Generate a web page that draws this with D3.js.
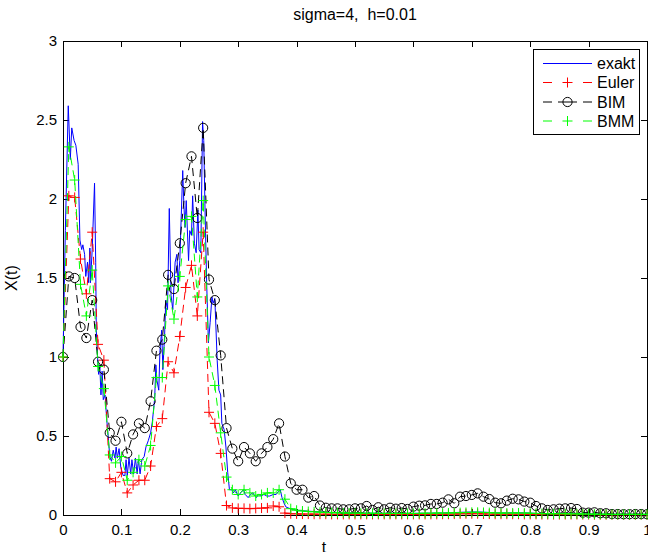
<!DOCTYPE html>
<html>
<head>
<meta charset="utf-8">
<script src="https://cdn.jsdelivr.net/npm/d3@7"></script>
<style>
  body { margin: 0; background: #fff; }
  svg { display: block; }
  text { font-family: "Liberation Sans", Arial, Helvetica, sans-serif; fill: #000; white-space: pre; }
</style>
</head>
<body>
<svg id="chart" width="648" height="552"></svg>
<script>
// ---- simulation grid (h = 0.01) ----
const h = 0.01;
const tGrid = d3.range(101).map(i => +(i * h).toFixed(2));

// ---- exact solution, sampled on a finer irregular grid ----
const exaktT = [
  0, 0.004, 0.009, 0.0125, 0.015, 0.019, 0.022, 0.026, 0.029, 0.032,
  0.034, 0.037, 0.039, 0.042, 0.044, 0.046, 0.047, 0.050, 0.054, 0.056,
  0.057, 0.059, 0.061, 0.063, 0.065, 0.067, 0.069, 0.072, 0.075, 0.078,
  0.080, 0.083, 0.086, 0.089, 0.091, 0.093, 0.096, 0.099, 0.103, 0.106,
  0.108, 0.110, 0.113, 0.116, 0.118, 0.121, 0.124, 0.127, 0.129, 0.132,
  0.135, 0.139, 0.142, 0.146, 0.150, 0.153, 0.157, 0.159, 0.161, 0.164,
  0.166, 0.169, 0.171, 0.174, 0.176, 0.179, 0.182, 0.185, 0.188, 0.192,
  0.195, 0.197, 0.200, 0.205, 0.207, 0.209, 0.211, 0.215, 0.217, 0.220,
  0.222, 0.225, 0.228, 0.231, 0.233, 0.236, 0.239, 0.241, 0.243, 0.246,
  0.249, 0.252, 0.255, 0.257, 0.260, 0.264, 0.267, 0.270, 0.272, 0.276,
  0.279, 0.282, 0.285, 0.289, 0.292, 0.295, 0.300, 0.304, 0.309, 0.312,
  0.317, 0.321, 0.325, 0.331, 0.335, 0.339, 0.344, 0.349, 0.354, 0.360,
  0.365, 0.369, 0.372, 0.375, 0.379, 0.382, 0.389,
  0.40, 0.41, 0.42, 0.43, 0.44, 0.45, 0.46, 0.47, 0.48, 0.49,
  0.50, 0.51, 0.52, 0.53, 0.54, 0.55, 0.56, 0.57, 0.58, 0.59,
  0.60, 0.61, 0.62, 0.63, 0.64, 0.65, 0.66, 0.67, 0.68, 0.69,
  0.70, 0.71, 0.72, 0.73, 0.74, 0.75, 0.76, 0.77, 0.78, 0.79,
  0.80, 0.81, 0.82, 0.83, 0.84, 0.85, 0.86, 0.87, 0.88, 0.89,
  0.90, 0.91, 0.92, 0.93, 0.94, 0.95, 0.96, 0.97, 0.98, 0.99, 1.00
];
const exaktX = [
  1.00, 1.80, 2.59, 2.25, 2.45, 2.37, 2.34, 2.22, 1.74, 1.68,
  1.71, 1.65, 1.51, 1.60, 1.47, 1.69, 1.47, 1.68, 2.10, 1.60,
  1.17, 1.01, 0.89, 0.95, 0.76, 0.91, 0.73, 0.76, 0.60, 0.47,
  0.37, 0.34, 0.41, 0.36, 0.43, 0.36, 0.42, 0.30, 0.25, 0.25,
  0.35, 0.25, 0.36, 0.26, 0.35, 0.26, 0.36, 0.26, 0.35, 0.26,
  0.35, 0.37, 0.43, 0.47, 0.52, 0.59, 0.74, 0.95, 0.85, 0.79,
  1.04, 1.17, 0.92, 1.14, 1.36, 1.30, 1.94, 1.39, 1.30, 1.60,
  1.65, 1.47, 1.61, 2.18, 1.96, 1.82, 1.99, 1.61, 1.80, 1.77,
  2.02, 1.72, 1.66, 1.93, 1.68, 1.66, 2.49, 2.37, 1.97, 1.47,
  1.09, 1.22, 1.38, 1.34, 1.37, 0.98, 0.79, 0.76, 0.58, 0.54,
  0.43, 0.27, 0.16, 0.16, 0.14, 0.16, 0.12, 0.14, 0.16, 0.13,
  0.11, 0.13, 0.14, 0.11, 0.13, 0.12, 0.13, 0.12, 0.12, 0.13,
  0.13, 0.15, 0.16, 0.11, 0.07, 0.05, 0.04,
  0.030, 0.027, 0.024, 0.022, 0.020, 0.018, 0.016, 0.015, 0.014, 0.013,
  0.012, 0.012, 0.012, 0.011, 0.011, 0.011, 0.010, 0.010, 0.010, 0.010,
  0.010, 0.011, 0.011, 0.012, 0.012, 0.013, 0.014, 0.015, 0.017, 0.018,
  0.019, 0.019, 0.018, 0.016, 0.014, 0.013, 0.013, 0.014, 0.014, 0.013,
  0.012, 0.010, 0.009, 0.008, 0.008, 0.008, 0.008, 0.007, 0.007, 0.006,
  0.006, 0.005, 0.005, 0.005, 0.004, 0.004, 0.004, 0.004, 0.004, 0.004, 0.004
];

// ---- Euler scheme ----
const eulerX = [
  1.00, 2.02, 2.01, 1.62, 1.40, 1.79, 1.08, 0.98, 0.23, 0.21,
  0.27, 0.14, 0.19, 0.22, 0.22, 0.31, 0.56, 0.61, 0.97, 0.90,
  1.13, 1.44, 1.58, 1.26, 1.79, 0.65, 0.58, 0.39, 0.06, 0.045,
  0.042, 0.042, 0.040, 0.042, 0.044, 0.045, 0.057, 0.052, 0.012, 0.008,
  0.007, 0.006, 0.006, 0.005, 0.005, 0.005, 0.004, 0.004, 0.004, 0.004,
  0.004, 0.004, 0.004, 0.004, 0.004, 0.004, 0.004, 0.004, 0.004, 0.004,
  0.004, 0.004, 0.004, 0.004, 0.004, 0.005, 0.005, 0.006, 0.007, 0.008,
  0.008, 0.008, 0.007, 0.006, 0.005, 0.005, 0.005, 0.005, 0.005, 0.004,
  0.004, 0.004, 0.003, 0.003, 0.003, 0.003, 0.003, 0.003, 0.003, 0.003,
  0.003, 0.002, 0.002, 0.002, 0.002, 0.002, 0.002, 0.002, 0.002, 0.002, 0.002
];

// ---- BIM scheme ----
const bimX = [
  1.00, 1.51, 1.50, 1.19, 1.12, 1.36, 0.97, 0.92, 0.52, 0.47,
  0.59, 0.39, 0.51, 0.58, 0.55, 0.72, 1.04, 1.11, 1.52, 1.43,
  1.72, 2.10, 2.27, 1.88, 2.45, 1.49, 1.36, 1.01, 0.55, 0.42,
  0.34, 0.43, 0.39, 0.34, 0.39, 0.43, 0.48, 0.58, 0.37, 0.20,
  0.16, 0.16, 0.11, 0.12, 0.06, 0.046, 0.042, 0.042, 0.036, 0.036,
  0.042, 0.042, 0.057, 0.032, 0.049, 0.036, 0.046, 0.040, 0.044, 0.038,
  0.053, 0.059, 0.061, 0.070, 0.070, 0.078, 0.099, 0.074, 0.116, 0.120,
  0.127, 0.137, 0.116, 0.101, 0.078, 0.074, 0.091, 0.103, 0.099, 0.085,
  0.078, 0.057, 0.042, 0.032, 0.036, 0.040, 0.042, 0.044, 0.038, 0.015,
  0.015, 0.017, 0.011, 0.011, 0.006, 0.006, 0.005, 0.005, 0.006, 0.006, 0.005
];

// ---- BMM scheme ----
const bmmX = [
  1.00, 2.33, 2.12, 1.46, 1.26, 1.55, 0.94, 0.80, 0.38, 0.33,
  0.37, 0.22, 0.27, 0.35, 0.31, 0.44, 0.87, 0.87, 1.45, 1.24,
  1.51, 1.87, 1.89, 1.38, 1.99, 1.00, 0.82, 0.52, 0.24, 0.16,
  0.13, 0.16, 0.14, 0.12, 0.13, 0.14, 0.14, 0.16, 0.10, 0.04,
  0.030, 0.025, 0.022, 0.020, 0.018, 0.016, 0.015, 0.014, 0.013, 0.012,
  0.012, 0.011, 0.011, 0.011, 0.010, 0.010, 0.010, 0.010, 0.010, 0.010,
  0.010, 0.010, 0.011, 0.011, 0.012, 0.012, 0.013, 0.014, 0.015, 0.016,
  0.017, 0.017, 0.016, 0.015, 0.013, 0.012, 0.012, 0.013, 0.013, 0.012,
  0.011, 0.010, 0.009, 0.008, 0.008, 0.008, 0.008, 0.007, 0.007, 0.006,
  0.006, 0.005, 0.005, 0.005, 0.004, 0.004, 0.004, 0.004, 0.004, 0.004, 0.004
];

// ---- axis ticks and labels ----
const xTicks = [0, 0.1, 0.2, 0.3, 0.4, 0.5, 0.6, 0.7, 0.8, 0.9, 1];
const xTickLabels = ["0", "0.1", "0.2", "0.3", "0.4", "0.5", "0.6", "0.7", "0.8", "0.9", "1"];
const yTicks = [0, 0.5, 1, 1.5, 2, 2.5, 3];
const yTickLabels = ["0", "0.5", "1", "1.5", "2", "2.5", "3"];
const seriesNames = ["exakt", "Euler", "BIM", "BMM"];
const titleText = "sigma=4,  h=0.01";
const xLabelText = "t";
const yLabelText = "X(t)";

// ---- layout ----
const svg = d3.select("#chart");
const axLeft = 63, axRight = 647, axTop = 41, axBottom = 515;
const x = d3.scaleLinear().domain([0, 1]).range([axLeft, axRight]);
const y = d3.scaleLinear().domain([0, 3]).range([axBottom, axTop]);
const tickFont = 15;

// axes with inward ticks on all four sides
const gx = svg.append("g").attr("transform", `translate(0,${axBottom})`)
  .call(d3.axisBottom(x).tickValues(xTicks).tickFormat((d, i) => xTickLabels[i])
    .tickSizeInner(-6).tickSizeOuter(0).tickPadding(9.5));
const gxt = svg.append("g").attr("transform", `translate(0,${axTop})`)
  .call(d3.axisTop(x).tickValues(xTicks).tickFormat("").tickSizeInner(-6).tickSizeOuter(0));
const gy = svg.append("g").attr("transform", `translate(${axLeft},0)`)
  .call(d3.axisLeft(y).tickValues(yTicks).tickFormat((d, i) => yTickLabels[i])
    .tickSizeInner(-6).tickSizeOuter(0).tickPadding(6));
const gyr = svg.append("g").attr("transform", `translate(${axRight},0)`)
  .call(d3.axisRight(y).tickValues(yTicks).tickFormat("").tickSizeInner(-6).tickSizeOuter(0));

[gx, gxt, gy, gyr].forEach(g => {
  g.select(".domain").remove();
  g.selectAll(".tick line").attr("stroke", "#000").attr("shape-rendering", "crispEdges");
  g.selectAll("text").attr("font-size", tickFont).attr("font-family", null).attr("fill", "#000");
});

// axes box
svg.append("rect")
  .attr("x", axLeft + 0.5).attr("y", axTop + 0.5)
  .attr("width", axRight - axLeft).attr("height", axBottom - axTop)
  .attr("fill", "none").attr("stroke", "#000").attr("stroke-width", 1);

// ---- series ----
const plot = svg.append("g");
const dash = "8,5";
const line = d3.line().x(d => x(d[0])).y(d => y(d[1]));

function plusPath(cx, cy, r) {
  return `M${cx - r},${cy}H${cx + r}M${cx},${cy - r}V${cy + r}`;
}

// exakt
plot.append("path")
  .attr("d", line(exaktT.map((t, i) => [t, exaktX[i]])))
  .attr("fill", "none").attr("stroke", "#0000ff").attr("stroke-width", 1);

function scheme(values, color, marker) {
  const pts = tGrid.map((t, i) => [t, values[i]]);
  const g = plot.append("g");
  g.append("path").attr("d", line(pts))
    .attr("fill", "none").attr("stroke", color).attr("stroke-width", 1)
    .attr("stroke-dasharray", dash);
  if (marker === "+") {
    g.selectAll("path.m").data(pts).enter().append("path").attr("class", "m")
      .attr("d", d => plusPath(x(d[0]), y(d[1]), 5))
      .attr("stroke", color).attr("stroke-width", 1).attr("fill", "none");
  } else {
    g.selectAll("circle").data(pts).enter().append("circle")
      .attr("cx", d => x(d[0])).attr("cy", d => y(d[1])).attr("r", 4.6)
      .attr("stroke", color).attr("stroke-width", 1).attr("fill", "none");
  }
}
scheme(eulerX, "#ff0000", "+");
scheme(bimX, "#000000", "o");
scheme(bmmX, "#00ff00", "+");

// ---- titles ----
svg.append("text").attr("x", (axLeft + axRight) / 2).attr("y", 20)
  .attr("text-anchor", "middle").attr("font-size", 16).text(titleText);
svg.append("text").attr("x", 324).attr("y", 553)
  .attr("text-anchor", "middle").attr("font-size", 16).text(xLabelText);
svg.append("text").attr("transform", `translate(17,${(axTop + axBottom) / 2}) rotate(-90)`)
  .attr("text-anchor", "middle").attr("font-size", 16).text(yLabelText);

// ---- legend ----
const lg = svg.append("g");
lg.append("rect").attr("x", 533.5).attr("y", 49.5).attr("width", 106).attr("height", 85)
  .attr("fill", "#fff").attr("stroke", "#000").attr("stroke-width", 1);
const legendRows = [63.5, 82.5, 102, 121];
const legendStyle = [
  { color: "#0000ff", marker: null, dashed: false },
  { color: "#ff0000", marker: "+", dashed: true },
  { color: "#000000", marker: "o", dashed: true },
  { color: "#00ff00", marker: "+", dashed: true }
];
seriesNames.forEach((name, i) => {
  const yy = legendRows[i], st = legendStyle[i];
  if (!st.dashed) {
    lg.append("line").attr("x1", 543).attr("x2", 592).attr("y1", yy).attr("y2", yy)
      .attr("stroke", st.color).attr("stroke-width", 1);
  } else {
    [[543, 552], [583, 592]].forEach(([a, b]) =>
      lg.append("line").attr("x1", a).attr("x2", b).attr("y1", yy).attr("y2", yy)
        .attr("stroke", st.color).attr("stroke-width", 1));
    if (st.marker === "+") {
      lg.append("path").attr("d", plusPath(567.5, yy, 5))
        .attr("stroke", st.color).attr("stroke-width", 1).attr("fill", "none");
    } else {
      lg.append("line").attr("x1", 558).attr("x2", 577).attr("y1", yy).attr("y2", yy)
        .attr("stroke", st.color).attr("stroke-width", 1);
      lg.append("circle").attr("cx", 567.5).attr("cy", yy).attr("r", 4.6)
        .attr("stroke", st.color).attr("stroke-width", 1).attr("fill", "none");
    }
  }
  lg.append("text").attr("x", 597).attr("y", yy).attr("dy", "0.36em")
    .attr("font-size", 16).text(name);
});
</script>
</body>
</html>
